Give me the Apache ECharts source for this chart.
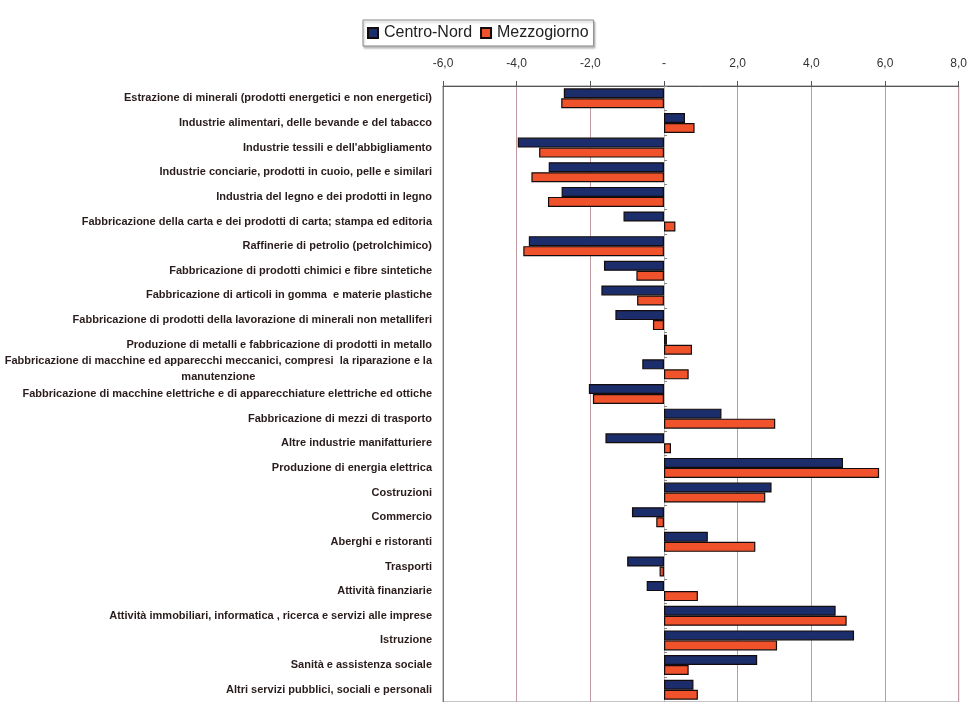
<!DOCTYPE html>
<html>
<head>
<meta charset="utf-8">
<script src="https://cdn.jsdelivr.net/npm/echarts@6/dist/echarts.min.js"></script>
<style>
  html, body { margin: 0; padding: 0; background: #fff; }
  #chart { width: 970px; height: 702px; }
</style>
</head>
<body>
<div id="chart"></div>
<script>
  // settori (dall'alto verso il basso)
  var categorie = [
    'Estrazione di minerali (prodotti energetici e non energetici)',
    'Industrie alimentari, delle bevande e del tabacco',
    "Industrie tessili e dell'abbigliamento",
    'Industrie conciarie, prodotti in cuoio, pelle e similari',
    'Industria del legno e dei prodotti in legno',
    'Fabbricazione della carta e dei prodotti di carta; stampa ed editoria',
    'Raffinerie di petrolio (petrolchimico)',
    'Fabbricazione di prodotti chimici e fibre sintetiche',
    'Fabbricazione di articoli in gomma  e materie plastiche',
    'Fabbricazione di prodotti della lavorazione di minerali non metalliferi',
    'Produzione di metalli e fabbricazione di prodotti in metallo',
    'Fabbricazione di macchine ed apparecchi meccanici, compresi  la riparazione e la\nmanutenzione',
    'Fabbricazione di macchine elettriche e di apparecchiature elettriche ed ottiche',
    'Fabbricazione di mezzi di trasporto',
    'Altre industrie manifatturiere',
    'Produzione di energia elettrica',
    'Costruzioni',
    'Commercio',
    'Aberghi e ristoranti',
    'Trasporti',
    'Attività finanziarie',
    'Attività immobiliari, informatica , ricerca e servizi alle imprese',
    'Istruzione',
    'Sanità e assistenza sociale',
    'Altri servizi pubblici, sociali e personali'
  ];

  var centroNord = [-2.72, 0.57, -3.97, -3.13, -2.78, -1.10, -3.67, -1.63, -1.70, -1.32,
                    0.08, -0.59, -2.04, 1.56, -1.59, 4.86, 2.92, -0.87, 1.19, -1.00,
                    -0.47, 4.66, 5.16, 2.53, 0.80];
  var mezzogiorno = [-2.79, 0.83, -3.39, -3.60, -3.15, 0.31, -3.82, -0.75, -0.73, -0.30,
                     0.76, 0.67, -1.93, 3.02, 0.19, 5.84, 2.75, -0.21, 2.48, -0.12,
                     0.92, 4.96, 3.07, 0.67, 0.92];

  var chart = echarts.init(document.getElementById('chart'));

  var barStyle = function (colore) {
    return { color: colore, borderColor: '#140c0c', borderWidth: 1.2 };
  };

  var option = {
    backgroundColor: '#fff',
    animation: false,
    legend: {
      top: 20,
      left: 363,
      data: ['Centro-Nord', 'Mezzogiorno'],
      itemWidth: 10,
      itemHeight: 10,
      itemGap: 8,
      icon: 'rect',
      padding: [5, 5, 5, 4],
      borderColor: '#888',
      borderWidth: 1,
      shadowColor: 'rgba(0,0,0,0.25)',
      shadowOffsetX: 1,
      shadowOffsetY: 2,
      shadowBlur: 2,
      backgroundColor: '#fff',
      textStyle: { fontFamily: 'Liberation Sans, Arial', fontSize: 16, color: '#222', padding: [0, 0, 0, 1] }
    },
    grid: { left: 443, top: 86, width: 517, height: 621, show: true, borderColor: '#888', borderWidth: 1 },
    xAxis: {
      type: 'value',
      position: 'top',
      min: -6,
      max: 8,
      interval: 2,
      axisLine: { show: true, lineStyle: { color: '#555' } },
      axisTick: { show: true, length: 5, lineStyle: { color: '#555' } },
      axisLabel: {
        margin: 16,
        fontFamily: 'Liberation Sans, Arial',
        fontSize: 12,
        color: '#333',
        formatter: function (v) {
          if (v === 0) return '-';
          return v.toFixed(1).replace('.', ',');
        }
      },
      splitLine: { show: true, lineStyle: { color: '#bf9aa0', width: 1 } }
    },
    yAxis: [
      {
        type: 'category',
        inverse: true,
        data: categorie,
        axisLine: { show: true, onZero: false, lineStyle: { color: '#777' } },
        axisTick: { show: false },
        axisLabel: {
          margin: 11,
          fontFamily: 'Liberation Sans, Arial',
          fontSize: 11,
          fontWeight: 'bold',
          color: '#2a1c1c',
          lineHeight: 16,
          formatter: function (v) {
            if (v.indexOf('\n') >= 0) {
              var parti = v.split('\n');
              return '{a|' + parti[0] + '}\n{b|' + parti[1] + '}';
            }
            return v;
          },
          rich: {
            a: { align: 'right' },
            b: { align: 'center' }
          }
        }
      },
      {
        type: 'category',
        inverse: true,
        data: categorie,
        axisLine: { show: true, onZero: true, lineStyle: { color: '#bbb' } },
        axisTick: { show: true, length: 3, lineStyle: { color: '#888' } },
        axisLabel: { show: false },
        splitLine: { show: false }
      }
    ],
    series: [
      {
        name: 'Centro-Nord',
        type: 'bar',
        yAxisIndex: 0,
        barWidth: 10,
        barGap: '0%',
        itemStyle: barStyle('#1c2d6b'),
        data: centroNord
      },
      {
        name: 'Mezzogiorno',
        type: 'bar',
        yAxisIndex: 0,
        barWidth: 10,
        itemStyle: barStyle('#f0522c'),
        data: mezzogiorno
      }
    ]
  };

  option && chart.setOption(option);
</script>
</body>
</html>
